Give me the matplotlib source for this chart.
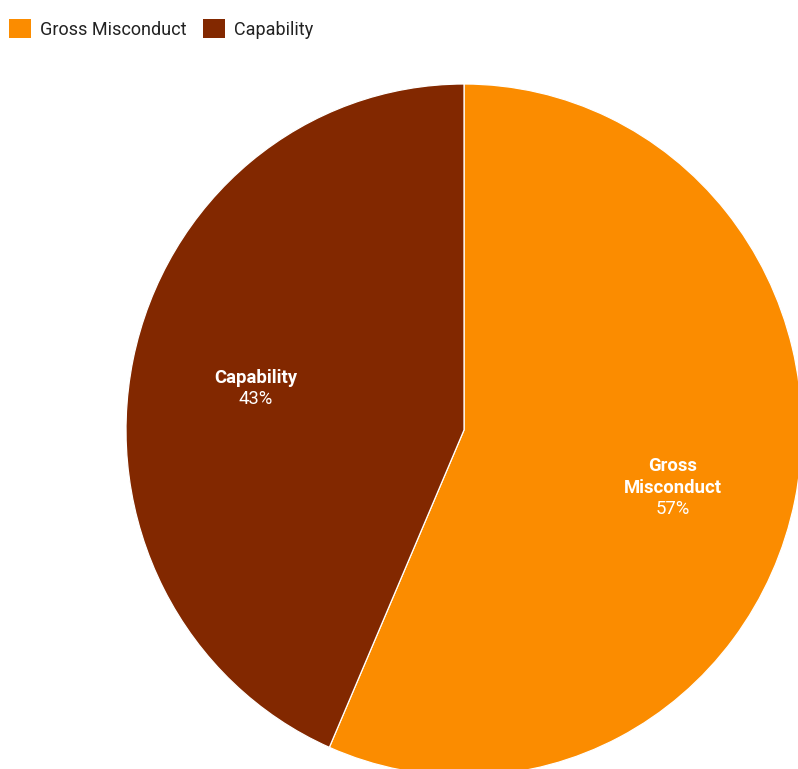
import numpy as np
import matplotlib.pyplot as plt
from matplotlib.patches import Rectangle

plt.rcParams['font.family'] = ['Roboto', 'DejaVu Sans']

names = ['Gross Misconduct', 'Capability']
label_lines = [['Gross', 'Misconduct'], ['Capability']]
values = [13, 10]
colors = ['#FB8C00', '#822800']

W, H = 798, 769
fig = plt.figure(figsize=(W / 100, H / 100), dpi=100)
ax = fig.add_axes([0, 0, 1, 1])

# the reference pie is slightly taller than wide
sy = 346 / 338
cx_px, cy_px, r = 464, 430, 338
wedges, _ = ax.pie(values, colors=colors, startangle=90, counterclock=False,
                   center=(cx_px, (H - cy_px) / sy), radius=r,
                   wedgeprops=dict(edgecolor='white', linewidth=0.9))

# pie resets the limits, so set them afterwards
ax.set_xlim(0, W)
ax.set_ylim(0, H / sy)
ax.set_aspect('auto')
ax.axis('off')


def to_data_y(ypx):
    return (H - ypx) / sy


total = sum(values)
pitch = 21.5
for w, lines, v in zip(wedges, label_lines, values):
    mid = np.deg2rad((w.theta1 + w.theta2) / 2)
    x = cx_px + 0.63 * r * np.cos(mid)
    base = cy_px - 0.63 * r * np.sin(mid) * sy - 3
    for i, line in enumerate(lines):
        ax.text(x, to_data_y(base + i * pitch), line, ha='center', va='baseline',
                color='white', fontsize=13.3, fontweight='bold')
    ax.text(x, to_data_y(base + len(lines) * pitch), f'{round(100 * v / total)}%',
            ha='center', va='baseline', color='white', fontsize=13.3)

handles = [Rectangle((0, 0), 1, 1, facecolor=c, edgecolor='none') for c in colors]
leg = fig.legend(handles, names, loc='upper left',
                 bbox_to_anchor=(2 / W, 1 - 12 / H),
                 ncol=2, frameon=False, fontsize=13, handlelength=1.2,
                 handleheight=1.2, handletextpad=0.48, columnspacing=0.95,
                 borderaxespad=0)
for t in leg.get_texts():
    t.set_color('#222222')

fig.savefig('out.png', dpi=100)
